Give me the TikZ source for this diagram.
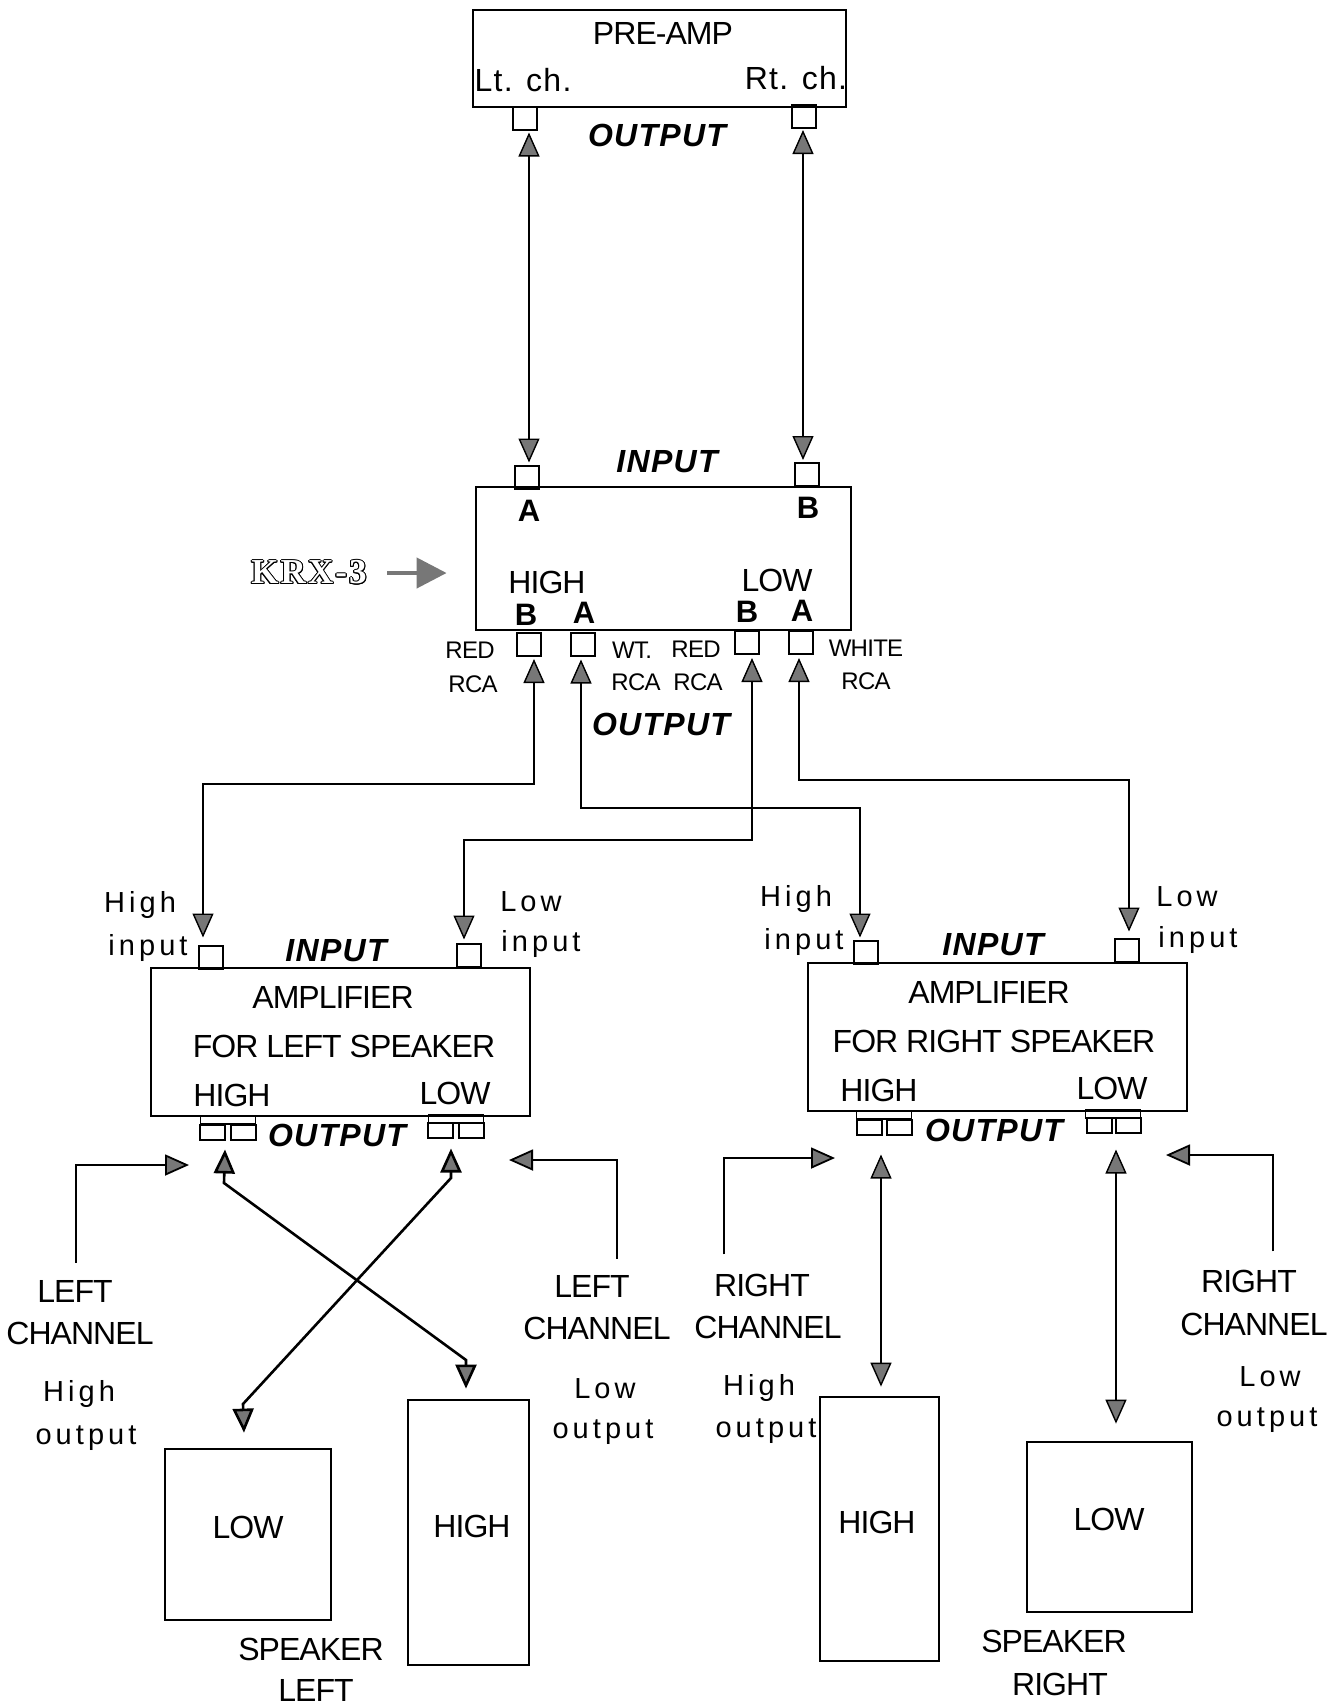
\documentclass[tikz,border=0pt]{standalone}
\usepackage{fontspec}
\usepackage{xcolor}
\usepackage{contour}
\usepackage{tikz}
\usetikzlibrary{arrows.meta,positioning,calc}
\setmainfont{Liberation Sans}
\newfontfamily\tightfont[LetterSpace=-3]{Liberation Sans}
\newfontfamily\spacedfont[LetterSpace=14]{Liberation Sans}
\newfontfamily\headfont[LetterSpace=4]{Liberation Sans}
\newfontfamily\krxfont[LetterSpace=6]{Liberation Serif}
\definecolor{headgray}{HTML}{777777}
\contourlength{0.5pt}
\tikzset{
  grayhead/.tip={Triangle[length=12pt, width=10.5pt, fill=headgray]},
  bothflow/.style={{grayhead}-{grayhead}, line width=0.7pt, draw=black},
  crossflow/.style={{grayhead}-{grayhead}, line width=1.3pt, draw=black},
  oneflow/.style={-{grayhead}, line width=0.9pt, draw=black},
  krxflow/.style={-{Triangle[length=15pt, width=15pt, fill=headgray]}, line width=2.2pt, draw=headgray},
  box/.style={draw, line width=1.4pt, inner sep=0pt},
  jack/.style={draw, line width=1pt, inner sep=0pt, minimum width=12pt, minimum height=11.5pt},
  ojack/.style={draw, line width=1pt, inner sep=0pt, minimum width=12.5pt, minimum height=7.5pt},
  obar/.style={draw, line width=0.8pt, inner sep=0pt, minimum width=27.5pt, minimum height=4pt},
  lbl/.style={inner sep=0pt, font=\fontsize{16}{18}\tightfont},
  small/.style={inner sep=0pt, font=\fontsize{12}{14}\tightfont},
  spaced/.style={inner sep=0pt, font=\fontsize{14.5}{17}\spacedfont},
  chlbl/.style={inner sep=0pt, font=\fontsize{16}{18}\headfont},
  port/.style={inner sep=0pt, font=\fontsize{15.5}{17}\selectfont\bfseries},
  iolbl/.style={inner sep=0pt, font=\fontsize{16}{18}\headfont\bfseries\itshape}
}
\begin{document}
\begin{tikzpicture}[x=0.5pt,y=-0.5pt]
    \useasboundingbox (0,0) rectangle (1340,1705);

    \node[box, minimum width=186.5pt, minimum height=48.5pt] (pre) at (659.5,58.5) {};
    \node[jack] (ltout) at (524.5,118) {};
    \node[jack] (rtout) at (804,116.5) {};
    \node[lbl] (preamp) at (663,33) {PRE-AMP};
    \node[chlbl] (ltch) at (523,80) {Lt. ch.};
    \node[chlbl] (rtch) at (796,78) {Rt. ch.};
    \node[iolbl] (preout) at (657,135) {OUTPUT};

    \node[box, minimum width=187.5pt, minimum height=71.5pt] (krx) at (663.5,558.5) {};
    \node[jack] (ain) at (527,477) {};
    \node[jack] (bin) at (807,474.5) {};
    \node[jack] (hib) at (529,644.5) {};
    \node[jack] (hia) at (583,644) {};
    \node[jack] (lob) at (747,642.5) {};
    \node[jack] (loa) at (801,642.5) {};
    \node[iolbl] (krxin) at (667,462) {INPUT};
    \node[port] (pa) at (529,511) {A};
    \node[port] (pb) at (808,508) {B};
    \node[lbl] (krxhi) at (547,582) {HIGH};
    \node[lbl] (krxlo) at (777,580) {LOW};
    \node[port] (phb) at (526,615) {B};
    \node[port] (pha) at (584,613) {A};
    \node[port] (plb) at (747,612) {B};
    \node[port] (pla) at (802,611) {A};
    \node[small] (red1) at (470,650) {RED};
    \node[small] (rca1) at (473,684) {RCA};
    \node[small] (wt) at (632,650) {WT.};
    \node[small] (rca2) at (636,682) {RCA};
    \node[small] (red2) at (696,649) {RED};
    \node[small] (rca3) at (698,682) {RCA};
    \node[small] (white) at (866,648) {WHITE};
    \node[small] (rca4) at (866,681) {RCA};
    \node[iolbl] (krxout) at (661,724) {OUTPUT};
    \node[inner sep=0pt, font=\fontsize{17.5}{19}\krxfont\bfseries] (krxname) at (309,573) {\contour{black}{\textcolor{white}{KRX-3}}};

    \node[box, minimum width=189.5pt, minimum height=74pt] (ampl) at (340.5,1042) {};
    \node[jack] (lhin) at (210.5,957) {};
    \node[jack] (llin) at (469,955) {};
    \node[spaced] (lhigh) at (140,905) {High};
    \node[spaced] (lhinput) at (148,948) {input};
    \node[spaced] (llow) at (531,902) {Low};
    \node[spaced] (llinput) at (541,944) {input};
    \node[iolbl] (lin) at (336,951) {INPUT};
    \node[lbl] (lamp1) at (333,997) {AMPLIFIER};
    \node[lbl] (lamp2) at (344,1046) {FOR LEFT SPEAKER};
    \node[lbl] (lamphi) at (232,1095) {HIGH};
    \node[lbl] (lamplo) at (455,1093) {LOW};
    \node[iolbl] (lout) at (337,1135) {OUTPUT};
    \node[obar] (lhbar) at (228,1120) {};
    \node[ojack] (lh1) at (212,1132) {};
    \node[ojack] (lh2) at (243,1132) {};
    \node[obar] (llbar) at (456,1119) {};
    \node[ojack] (ll1) at (440.5,1130) {};
    \node[ojack] (ll2) at (471,1130) {};

    \node[box, minimum width=189.5pt, minimum height=74pt] (ampr) at (997.5,1037) {};
    \node[jack] (rhin) at (866,952) {};
    \node[jack] (rlin) at (1127,950) {};
    \node[spaced] (rhigh) at (796,899) {High};
    \node[spaced] (rhinput) at (804,942) {input};
    \node[spaced] (rlow) at (1187,897) {Low};
    \node[spaced] (rlinput) at (1198,940) {input};
    \node[iolbl] (rin) at (993,945) {INPUT};
    \node[lbl] (ramp1) at (989,992) {AMPLIFIER};
    \node[lbl] (ramp2) at (994,1041) {FOR RIGHT SPEAKER};
    \node[lbl] (ramphi) at (879,1090) {HIGH};
    \node[lbl] (ramplo) at (1112,1088) {LOW};
    \node[iolbl] (rout) at (994,1130) {OUTPUT};
    \node[obar] (rhbar) at (884,1115) {};
    \node[ojack] (rh1) at (869,1127) {};
    \node[ojack] (rh2) at (899,1127) {};
    \node[obar] (rlbar) at (1113,1114) {};
    \node[ojack] (rl1) at (1099,1125) {};
    \node[ojack] (rl2) at (1128.5,1125) {};

    \node[lbl] (lc1a) at (75,1291) {LEFT};
    \node[lbl] (lc1b) at (80,1333) {CHANNEL};
    \node[spaced] (lc1c) at (79,1394) {High};
    \node[spaced] (lc1d) at (86,1438) {output};
    \node[lbl] (lc2a) at (592,1286) {LEFT};
    \node[lbl] (lc2b) at (597,1328) {CHANNEL};
    \node[spaced] (lc2c) at (605,1389) {Low};
    \node[spaced] (lc2d) at (603,1432) {output};
    \node[lbl] (rc1a) at (762,1285) {RIGHT};
    \node[lbl] (rc1b) at (768,1327) {CHANNEL};
    \node[spaced] (rc1c) at (759,1388) {High};
    \node[spaced] (rc1d) at (766,1431) {output};
    \node[lbl] (rc2a) at (1249,1281) {RIGHT};
    \node[lbl] (rc2b) at (1254,1324) {CHANNEL};
    \node[spaced] (rc2c) at (1270,1377) {Low};
    \node[spaced] (rc2d) at (1267,1420) {output};

    \node[box, minimum width=83pt, minimum height=85.5pt] (lspklo) at (248,1534.5) {};
    \node[box, minimum width=60.5pt, minimum height=132.5pt] (lspkhi) at (468.5,1532.5) {};
    \node[box, minimum width=59.5pt, minimum height=132pt] (rspkhi) at (879.5,1529) {};
    \node[box, minimum width=82.5pt, minimum height=85pt] (rspklo) at (1109.5,1527) {};
    \node[lbl] (lolbl1) at (248,1527) {LOW};
    \node[lbl] (hilbl1) at (472,1526) {HIGH};
    \node[lbl] (hilbl2) at (877,1522) {HIGH};
    \node[lbl] (lolbl2) at (1109,1519) {LOW};
    \node[lbl] (spk1) at (311,1649) {SPEAKER};
    \node[lbl] (left) at (316,1690) {LEFT};
    \node[lbl] (spk2) at (1054,1641) {SPEAKER};
    \node[lbl] (right) at (1060,1684) {RIGHT};

    \coordinate (bushia) at (300,784);
    \coordinate (busha) at (700,808);
    \coordinate (buslb) at (600,840);
    \coordinate (busla) at (1000,780);
    \coordinate (lbend1) at (224,1183);
    \coordinate (lbend2) at (466,1360);
    \coordinate (lbend3) at (451,1178);
    \coordinate (lbend4) at (243,1404);
    \coordinate (tip1) at (189,1165);
    \coordinate (tip2) at (509,1160);
    \coordinate (tip3) at (835,1158);
    \coordinate (tip4) at (1166,1155);

    \draw[krxflow, shorten <=10pt] (krxname.east) -- ($(krx.west |- krxname.east)+(-28,0)$);
    \draw[bothflow] ($(ltout.south)+(4.5,2)$) -- ($(ain.north)+(2,-2)$);
    \draw[bothflow] ($(rtout.south)+(-1,1)$) -- ($(bin.north)+(-4,-2)$);
    \draw[bothflow] ($(hib.south)+(5,2)$) |- (bushia) -| ($(lhin.north)+(-7.5,-7)$);
    \draw[bothflow] ($(hia.south)+(-2,3)$) |- (busha) -| ($(rhin.north)+(-6,-2)$);
    \draw[bothflow] ($(lob.south)+(5,3)$) |- (buslb) -| ($(llin.north)+(-5,-3)$);
    \draw[bothflow] ($(loa.south)+(-2,3)$) |- (busla) -| ($(rlin.north)+(2,-6)$);
    \draw[crossflow] ($(lh1.south)+(13,9)$) -- (lbend1) -- (lbend2) -- ($(lspkhi.north)+(-2.5,-10)$);
    \draw[crossflow] ($(ll1.south)+(10.5,10)$) -- (lbend3) -- (lbend4) -- ($(lspklo.north)+(-4,-15)$);
    \draw[bothflow] ($(rh1.south)+(12,19)$) -- ($(rspkhi.north)+(1.5,-9)$);
    \draw[bothflow] ($(rl1.south)+(17,16)$) -- ($(rspklo.north)+(6.5,-17)$);
    \draw[oneflow] ($(lc1a.north)+(1,-17)$) |- (tip1);
    \draw[oneflow] ($(lc2a.north)+(25,-16)$) |- (tip2);
    \draw[oneflow] ($(rc1a.north)+(-38,-19)$) |- (tip3);
    \draw[oneflow] ($(rc2a.north)+(24,-18)$) |- (tip4);
\end{tikzpicture}
\end{document}
